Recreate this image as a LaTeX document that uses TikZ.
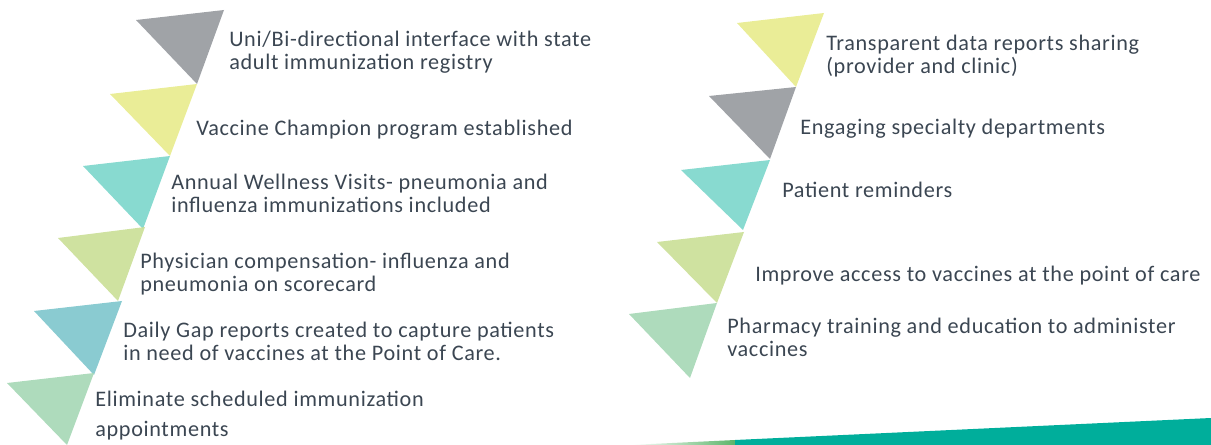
\documentclass[tikz,border=0pt]{standalone}
\usepackage{fontspec}
\setmainfont{Carlito}[LetterSpace=3]
\definecolor{tgray}{HTML}{989BA0}
\definecolor{tyellow}{HTML}{E8EC8E}
\definecolor{tteal}{HTML}{7ED7CC}
\definecolor{tlime}{HTML}{CBDF98}
\definecolor{tblue}{HTML}{80C7CD}
\definecolor{tmint}{HTML}{A7D8B6}
\definecolor{textgray}{HTML}{3B4652}
\definecolor{stripgreen}{HTML}{5CB56A}
\definecolor{stripteal}{HTML}{00AE9B}

\begin{document}
\begin{tikzpicture}[x=0.025cm, y=-0.025cm,
    item/.style = {anchor=base west, align=left, inner sep=0pt, text=textgray,
                   font=\fontsize{15.8}{17}\selectfont},
    tri/.style = {fill opacity=0.92}]
		\useasboundingbox (0,0) rectangle (1211,445);
		% left column
		\fill[tri, tgray]   (136,20) -- (224,10) -- (197,84) -- cycle;
		\fill[tri, tyellow] (110,94) -- (197,84) -- (170,156) -- cycle;
		\fill[tri, tteal]   (83,166) -- (170,156) -- (143,229) -- cycle;
		\fill[tri, tlime]   (58,238) -- (145,227) -- (118,301) -- cycle;
		\fill[tri, tblue]   (34,311) -- (122,301) -- (94,375) -- cycle;
		\fill[tri, tmint]   (7,383) -- (94,373) -- (67,445) -- cycle;
		% right column
		\fill[tri, tyellow] (737,23) -- (824,13) -- (796,87) -- cycle;
		\fill[tri, tgray]   (709,96) -- (796,87) -- (770,159) -- cycle;
		\fill[tri, tteal]   (681,170) -- (770,160) -- (743,230) -- cycle;
		\fill[tri, tlime]   (657,242) -- (744,232) -- (717,303) -- cycle;
		\fill[tri, tmint]   (629,314) -- (717,303) -- (690,378) -- cycle;
		% strip
		\shade[left color=white, right color=stripgreen] (630,445) -- (735,440) -- (735,445) -- cycle;
		\fill[stripteal] (735,440) -- (1211,418) -- (1211,445) -- (735,445) -- cycle;

		% text (multi-line nodes sit on the baseline of their last line)
		\node[item] (registry) at (229,70) {Uni/Bi-directional interface with state\\adult immunization registry};
		\node[item] (champion) at (196,136) {Vaccine Champion program established};
		\node[item] (wellness) at (171,213) {Annual Wellness Visits- pneumonia and\\influenza immunizations included};
		\node[item] (compensation) at (140,292) {Physician compensation- influenza and\\pneumonia on scorecard};
		\node[item] (gapreport) at (123,361) {Daily Gap reports created to capture patients\\in need of vaccines at the Point of Care.};
		\node[item, font=\fontsize{15.8}{21.3}\selectfont] (scheduling) at (95,436) {Eliminate scheduled immunization\\appointments};

		\node[item] (transparency) at (826,74) {Transparent data reports sharing\\(provider and clinic)};
		\node[item] (specialty) at (800,135) {Engaging specialty departments};
		\node[item] (reminders) at (782,198) {Patient reminders};
		\node[item] (access) at (755,282) {Improve access to vaccines at the point of care};
		\node[item] (pharmacy) at (727,357) {Pharmacy training and education to administer\\vaccines};
	\end{tikzpicture}
\end{document}
